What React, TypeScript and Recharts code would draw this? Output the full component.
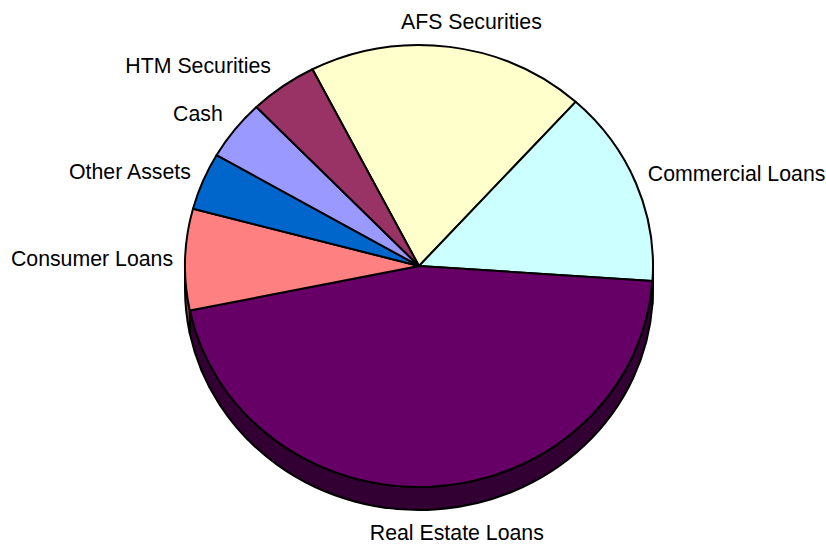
import { PieChart, Pie } from "recharts";

const categories = [
  "AFS Securities",
  "Commercial Loans",
  "Real Estate Loans",
  "Consumer Loans",
  "Other Assets",
  "Cash",
  "HTM Securities",
];
const shares = [19.2, 14.4, 45.7, 7.4, 4.2, 4.4, 4.7];
const topColors = ["#FFFFCC", "#CCFFFF", "#660066", "#FF8080", "#0066CC", "#9999FF", "#993366"];
const sideColors = ["#808066", "#668080", "#330033", "#804040", "#003366", "#4D4D80", "#4D1A33"];

const data = categories.map((name, i) => ({
  name,
  value: shares[i],
  fill: topColors[i],
  side: sideColors[i],
}));

// tilted pie: vertical squash and thickness of the side wall
const SQUASH = 221 / 234;
const DEPTH = 23;
const RAD = Math.PI / 180;
const FONT = "'Liberation Sans', Arial, sans-serif";

function pt(cx: number, cy: number, rx: number, ry: number, a: number) {
  return [cx + rx * Math.cos(a * RAD), cy - ry * Math.sin(a * RAD)];
}

function Slice(props: any) {
  const { cx, cy, outerRadius, startAngle, endAngle, fill } = props;
  const side = props.payload?.side ?? props.side ?? "#333";
  const rx = outerRadius;
  const ry = outerRadius * SQUASH;
  const hi = Math.max(startAngle, endAngle);
  const lo = Math.min(startAngle, endAngle);
  const [x1, y1] = pt(cx, cy, rx, ry, hi);
  const [x2, y2] = pt(cx, cy, rx, ry, lo);
  const large = hi - lo > 180 ? 1 : 0;
  const top = `M${cx},${cy} L${x1},${y1} A${rx},${ry} 0 ${large} 1 ${x2},${y2} Z`;

  // side wall: only the part of the rim that faces down (lower half)
  const walls: string[] = [];
  for (const k of [-360, 0, 360]) {
    const a2 = Math.min(hi, k);
    const a1 = Math.max(lo, k - 180);
    if (a2 - a1 > 0.01) {
      const [tx2, ty2] = pt(cx, cy, rx, ry, a2);
      const [tx1, ty1] = pt(cx, cy, rx, ry, a1);
      walls.push(
        `M${tx2},${ty2} A${rx},${ry} 0 0 1 ${tx1},${ty1} L${tx1},${ty1 + DEPTH} A${rx},${ry} 0 0 0 ${tx2},${ty2 + DEPTH} Z`
      );
    }
  }

  return (
    <g>
      {walls.map((d, i) => (
        <path key={i} d={d} fill={side} stroke="#000" strokeWidth={2} strokeLinejoin="round" />
      ))}
      <path d={top} fill={fill} stroke="#000" strokeWidth={2} strokeLinejoin="round" />
    </g>
  );
}

function renderLabel(props: any) {
  const { cx, cy, midAngle, outerRadius, name } = props;
  const rx = outerRadius;
  const ry = outerRadius * SQUASH;
  const c = Math.cos(midAngle * RAD);
  const s = Math.sin(midAngle * RAD);
  const ex = cx + rx * c;
  let ey = cy - ry * s;
  let gap = 26;
  if (s < -0.5) {
    ey += DEPTH;
    gap = 23;
  }
  const yc = ey - s * gap;
  let x = ex + 22;
  let anchor: "start" | "end" | "middle" = "middle";
  if (c > 0.3) {
    x = ex + 12;
    anchor = "start";
  } else if (c < -0.3) {
    x = ex - 12;
    anchor = "end";
  }
  return (
    <text x={x} y={yc + 7.6} textAnchor={anchor} fontSize={21.3} fill="#000" fontFamily={FONT}>
      {name}
    </text>
  );
}

export default function App() {
  return (
    <div style={{ position: "absolute", left: 0, top: 0, background: "#fff" }}>
      <PieChart width={826} height={546} margin={{ top: 0, right: 0, bottom: 0, left: 0 }}>
        <Pie
          data={data}
          dataKey="value"
          nameKey="name"
          cx={419}
          cy={266}
          outerRadius={234}
          startAngle={117.1}
          endAngle={117.1 - 360}
          shape={Slice}
          label={renderLabel}
          labelLine={false}
          isAnimationActive={false}
        />
      </PieChart>
    </div>
  );
}
